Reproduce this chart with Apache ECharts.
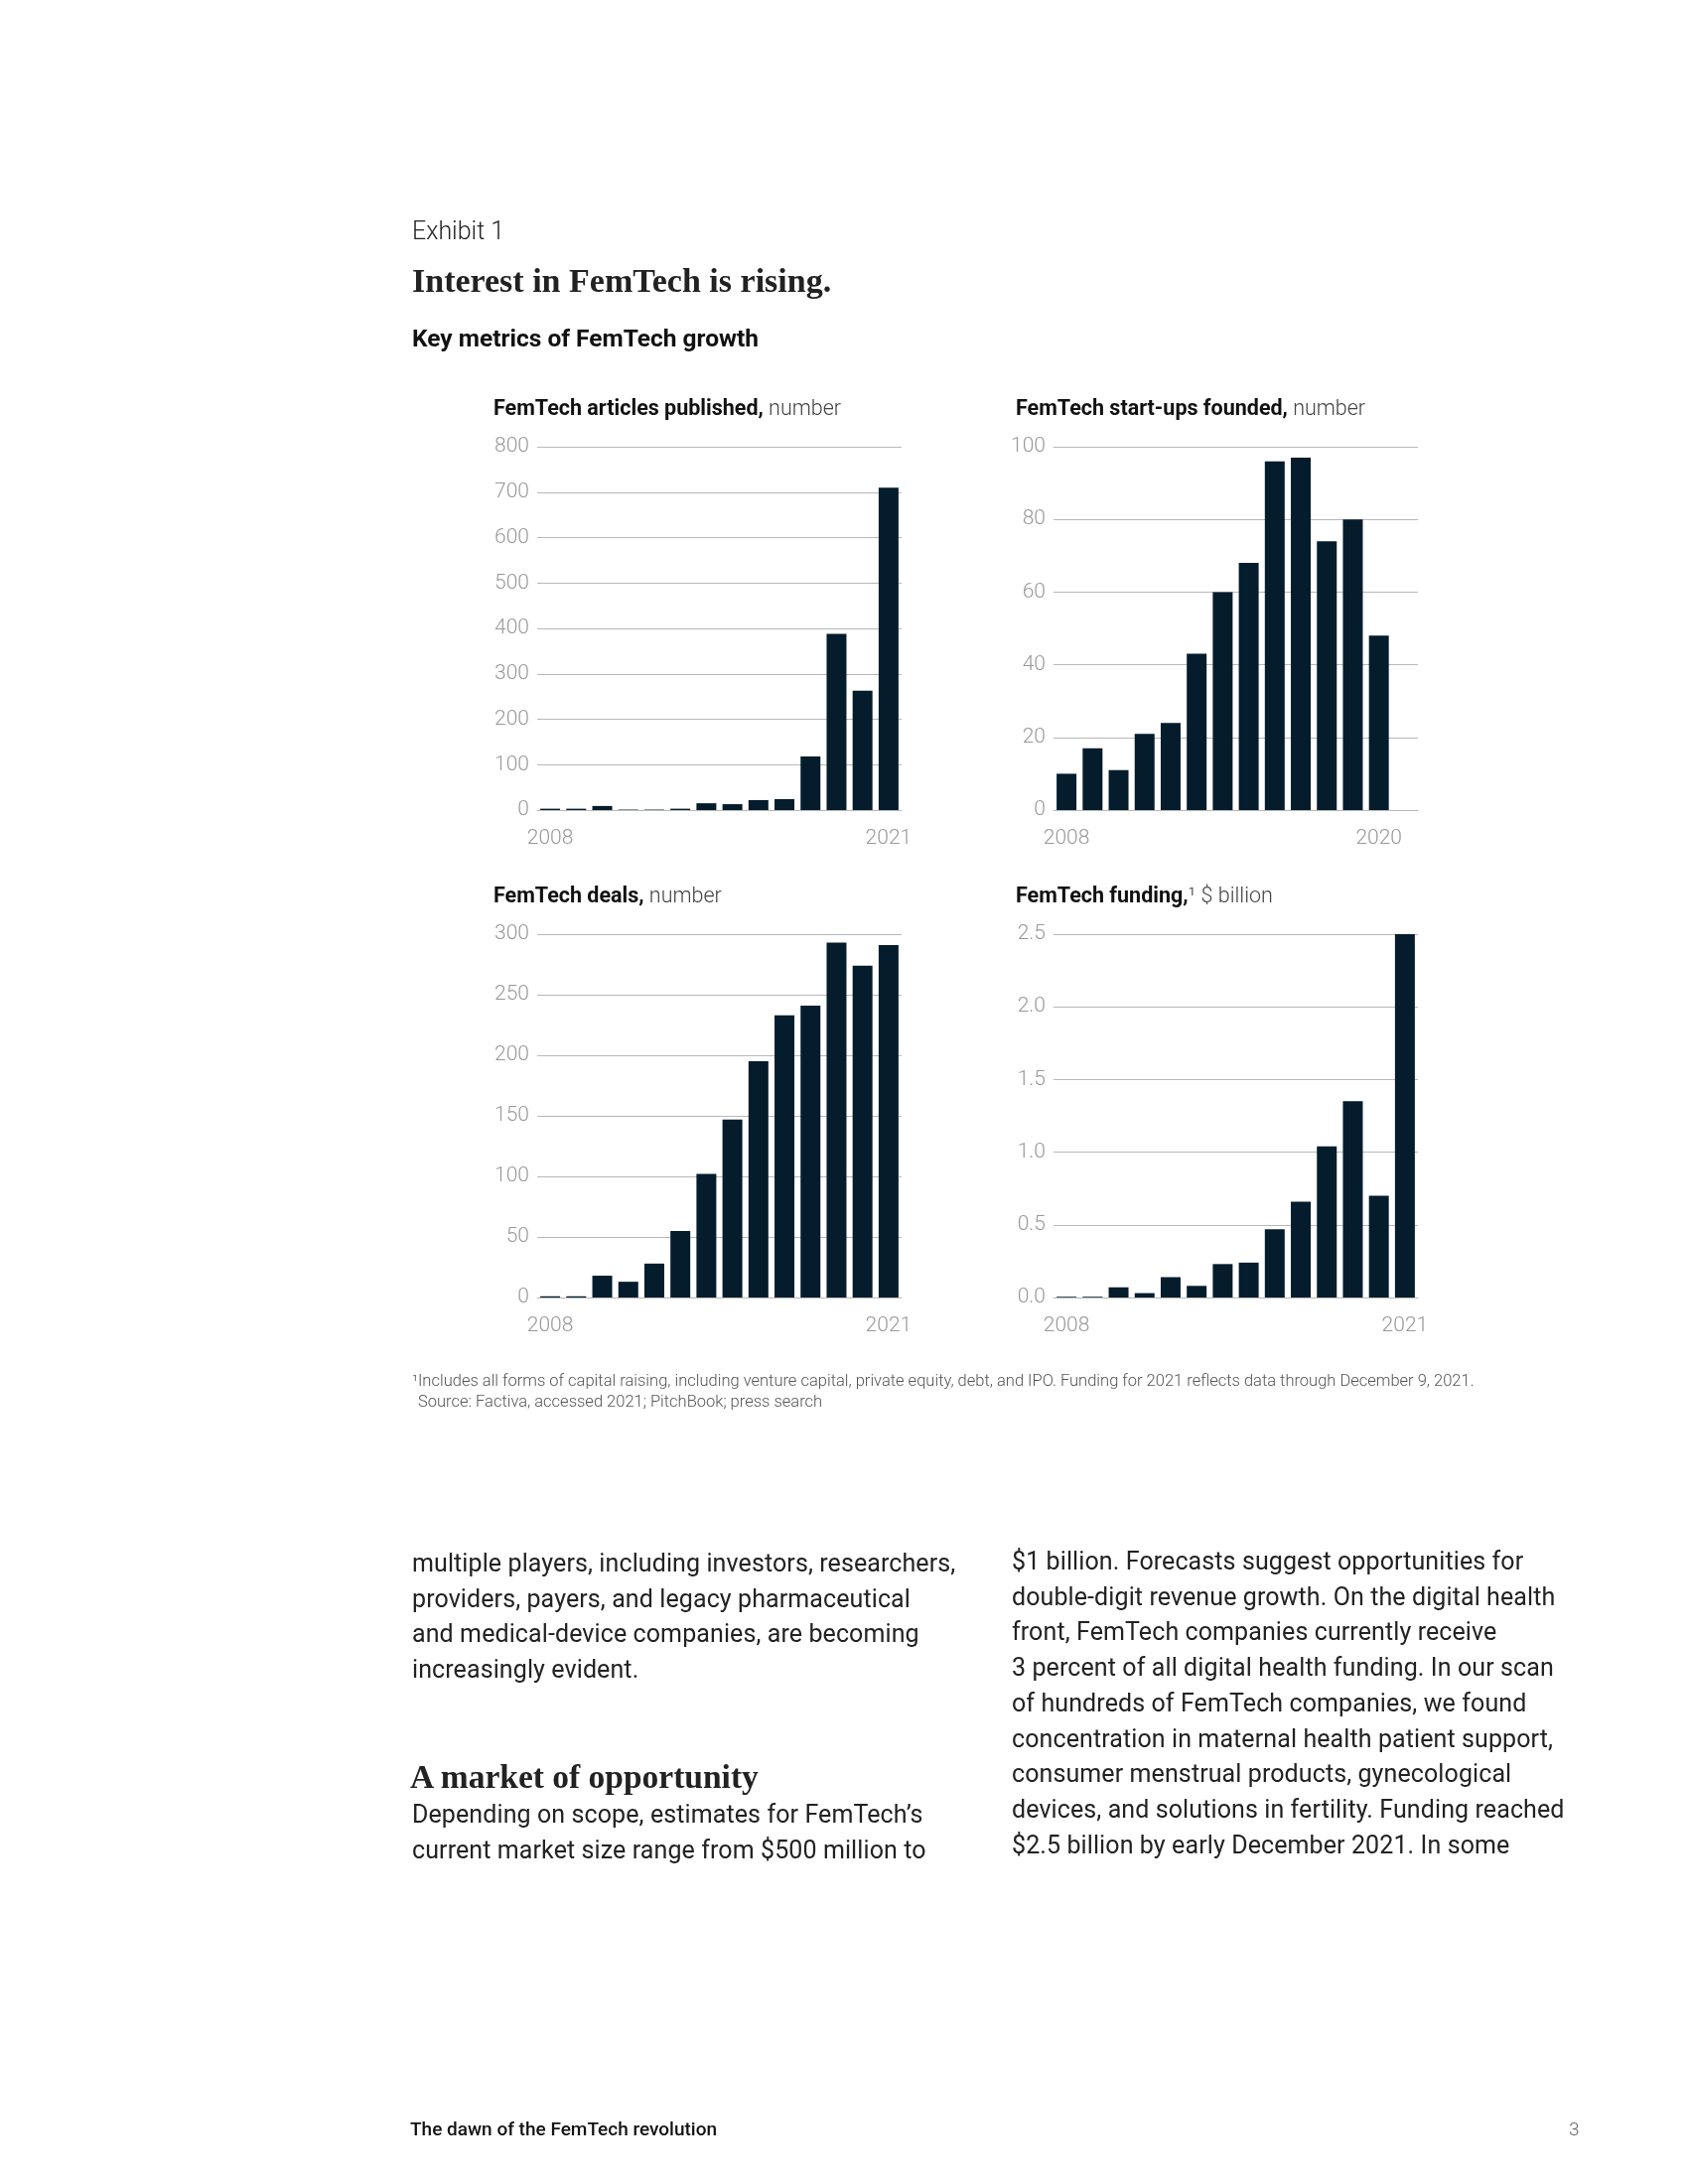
<!DOCTYPE html>
<html>
<head>
<meta charset="utf-8">
<script src="https://cdn.jsdelivr.net/npm/echarts@6/dist/echarts.min.js"></script>
<style>
  html, body { margin:0; padding:0; background:#fff; }
  #page { position:relative; width:1700px; height:2200px; overflow:hidden; }
  #c { position:absolute; left:0; top:0; width:1700px; height:2200px; }
  .col { position:absolute; font-family: Roboto, "Noto Sans", sans-serif; font-size:25px; line-height:35.7px; color:#222; letter-spacing:0.1px; white-space:nowrap; }
  .head { position:absolute; font-family: "Liberation Serif", serif; font-weight:bold; font-size:33.5px; color:#222; white-space:nowrap; }
</style>
</head>
<body>
<div id="page">
  <div id="c"></div>
  <div class="col" style="left:415px; top:1557px;">multiple players, including investors, researchers,<br>providers, payers, and legacy pharmaceutical<br>and medical-device companies, are becoming<br>increasingly evident.</div>
  <div class="head" style="left:413px; top:1771px;">A market of opportunity</div>
  <div class="col" style="left:415px; top:1810px;">Depending on scope, estimates for FemTech’s<br>current market size range from $500 million to</div>
  <div class="col" style="left:1019px; top:1555px;">$1 billion. Forecasts suggest opportunities for<br>double-digit revenue growth. On the digital health<br>front, FemTech companies currently receive<br>3 percent of all digital health funding. In our scan<br>of hundreds of FemTech companies, we found<br>concentration in maternal health patient support,<br>consumer menstrual products, gynecological<br>devices, and solutions in fertility. Funding reached<br>$2.5 billion by early December 2021. In some</div>
</div>
<script>
// ---- Data ----
const years = ['2008','2009','2010','2011','2012','2013','2014','2015','2016','2017','2018','2019','2020','2021'];
const articles = [3, 3, 9, 1, 1, 3, 15, 13, 22, 24, 118, 388, 263, 710];
const startups = [10, 17, 11, 21, 24, 43, 60, 68, 96, 97, 74, 80, 48, null];
const deals = [1, 1, 18, 13, 28, 55, 102, 147, 195, 233, 241, 293, 274, 291];
const funding = [0.005, 0.005, 0.07, 0.03, 0.14, 0.08, 0.23, 0.24, 0.47, 0.66, 1.04, 1.35, 0.70, 2.5];
const articlesTicks = { min: 0, max: 800, interval: 100 };
const startupsTicks = { min: 0, max: 100, interval: 20 };
const dealsTicks = { min: 0, max: 300, interval: 50 };
const fundingTicks = { min: 0, max: 2.5, interval: 0.5 };
const xLabels1 = ['2008', '2021'];
const xLabels2 = ['2008', '2020'];

// ---- Styles ----
const BAR = '#051c2c';
const GRID = '#b8b8b8';
const LABEL = '#999999';
const FONT = 'Roboto, "Noto Sans", sans-serif';

const chart = echarts.init(document.getElementById('c'), null, { width: 1700, height: 2200 });

const grids = [
  { left: 541, top: 450, width: 367, height: 366 },
  { left: 1061, top: 450, width: 367, height: 366 },
  { left: 541, top: 941, width: 367, height: 366 },
  { left: 1061, top: 941, width: 367, height: 366 }
];

function xAxis(i, shown) {
  return {
    gridIndex: i, type: 'category', data: years,
    axisTick: { show: false },
    axisLine: { lineStyle: { color: GRID, width: 1 } },
    axisLabel: {
      interval: (idx, v) => shown.indexOf(v) >= 0,
      margin: 18, fontSize: 21, color: LABEL, fontFamily: FONT, fontWeight: 300
    }
  };
}
function yAxis(i, t, fmt) {
  return {
    gridIndex: i, type: 'value', min: t.min, max: t.max, interval: t.interval,
    axisLine: { show: false }, axisTick: { show: false },
    splitLine: { lineStyle: { color: GRID, width: 1 } },
    axisLabel: { margin: 8, fontSize: 21, color: LABEL, fontFamily: FONT, fontWeight: 300, formatter: fmt }
  };
}
function bars(i, data) {
  return { type: 'bar', xAxisIndex: i, yAxisIndex: i, data: data, barWidth: 20,
    itemStyle: { color: BAR }, silent: true };
}
const titleRich = {
  b: { fontFamily: FONT, fontWeight: 'bold', fontSize: 21.5, color: '#111' },
  n: { fontFamily: FONT, fontWeight: 300, fontSize: 21.5, color: '#444' }
};
function chartTitle(left, top, bold, rest) {
  return { left: left, top: top, padding: 0, text: '{b|' + bold + '}{n|' + rest + '}', textStyle: { rich: titleRich } };
}

const option = {
  animation: false,
  backgroundColor: '#fff',
  title: [
    chartTitle(497, 402, 'FemTech articles published,', ' number'),
    chartTitle(1023, 402, 'FemTech start-ups founded,', ' number'),
    chartTitle(497, 893, 'FemTech deals,', ' number'),
    chartTitle(1023, 893, 'FemTech funding,', '¹ $ billion')
  ],
  grid: grids,
  xAxis: [xAxis(0, xLabels1), xAxis(1, xLabels2), xAxis(2, xLabels1), xAxis(3, xLabels1)],
  yAxis: [
    yAxis(0, articlesTicks),
    yAxis(1, startupsTicks),
    yAxis(2, dealsTicks),
    yAxis(3, fundingTicks, v => v.toFixed(1))
  ],
  series: [bars(0, articles), bars(1, startups), bars(2, deals), bars(3, funding)],
  graphic: [
    { type: 'text', left: 415, top: 222, style: { text: 'Exhibit 1', font: '300 25px ' + FONT, fill: '#222' } },
    { type: 'text', left: 415, top: 268, style: { text: 'Interest in FemTech is rising.', font: 'bold 34px "Liberation Serif", serif', fill: '#222' } },
    { type: 'text', left: 415, top: 330, style: { text: 'Key metrics of FemTech growth', font: 'bold 24.5px ' + FONT, fill: '#111' } },
    { type: 'text', left: 415, top: 1383, style: { text: '¹Includes all forms of capital raising, including venture capital, private equity, debt, and IPO. Funding for 2021 reflects data through December 9, 2021.', font: '300 16.5px ' + FONT, fill: '#555' } },
    { type: 'text', left: 421, top: 1404, style: { text: 'Source: Factiva, accessed 2021; PitchBook; press search', font: '300 16.5px ' + FONT, fill: '#555' } },
    { type: 'text', left: 413, top: 2137, style: { text: 'The dawn of the FemTech revolution', font: '500 19px ' + FONT, fill: '#111' } },
    { type: 'text', left: 1580, top: 2137, style: { text: '3', font: '300 19px ' + FONT, fill: '#666' } }
  ]
};
chart.setOption(option);
</script>
</body>
</html>
